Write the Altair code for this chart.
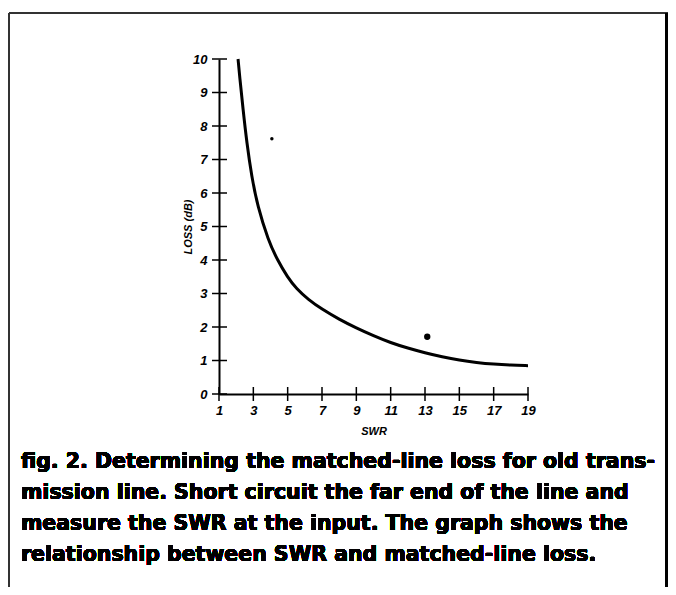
import altair as alt
import pandas as pd

# curve
swr = [2.11, 2.2, 2.4, 2.62, 2.9, 3.25, 3.86, 4.4, 5.0, 5.5, 6.2, 7.0, 8.0, 9.0, 10.0,
       11.0, 12.0, 13.0, 14.0, 15.0, 16.0, 17.0, 18.0, 19.0]
loss = [10.0, 9.5, 8.5, 7.5, 6.5, 5.6, 4.6, 4.0, 3.48, 3.15, 2.82, 2.53, 2.23, 1.97, 1.74,
        1.53, 1.37, 1.23, 1.11, 1.01, 0.94, 0.89, 0.86, 0.845]

# the two isolated dots
dot_swr = [4.08, 13.13]
dot_loss = [7.62, 1.71]

x_ticks = [1, 3, 5, 7, 9, 11, 13, 15, 17, 19]
y_ticks = [0, 1, 2, 3, 4, 5, 6, 7, 8, 9, 10]

caption = [
    "fig. 2. Determining the matched-line loss for old trans-",
    "mission line. Short circuit the far end of the line and",
    "measure the SWR at the input. The graph shows the",
    "relationship between SWR and matched-line loss.",
]

curve_df = pd.DataFrame({"SWR": swr, "LOSS": loss})
dot_df = pd.DataFrame({"SWR": dot_swr, "LOSS": dot_loss, "big": [False, True]})
xt_df = pd.DataFrame({"SWR": x_ticks})
yt_df = pd.DataFrame({"LOSS": y_ticks})

W, H = 309, 335
xscale = alt.Scale(domain=[1, 19], nice=False, zero=False)
yscale = alt.Scale(domain=[0, 10], nice=False)

lab = dict(labelFont="Liberation Sans", labelFontStyle="italic", labelFontWeight="bold",
           labelFontSize=13, labelColor="black", domainColor="black", domainWidth=2,
           labelOverlap=False, labelBound=False, labelFlush=False,
           ticks=False, grid=False, titleFont="Liberation Sans", titleFontStyle="italic",
           titleFontWeight="bold", titleFontSize=11, titleColor="black")

xaxis = alt.Axis(values=x_ticks, labelPadding=10, title="SWR",
                 titleX=W / 2, titleY=37, titleBaseline="middle", **lab)
yaxis = alt.Axis(values=y_ticks, labelPadding=12, title="LOSS (dB)",
                 titleX=-31, titleY=H / 2, titleAngle=-90, titleAlign="center",
                 titleBaseline="middle", **lab)

X = alt.X("SWR:Q", scale=xscale, axis=xaxis)
Y = alt.Y("LOSS:Q", scale=yscale, axis=yaxis)

line = alt.Chart(curve_df).mark_line(color="black", strokeWidth=3, interpolate="basis").encode(
    x=X, y=Y)

dots = alt.Chart(dot_df).mark_circle(color="black", opacity=1).encode(
    x=X, y=Y,
    size=alt.Size("big:N", scale=alt.Scale(domain=[False, True], range=[12, 40]), legend=None),
)

xcross = alt.Chart(xt_df).mark_rule(color="black", strokeWidth=1.5).encode(
    x=X, y=alt.value(H - 7), y2=alt.value(H + 7))
ycross = alt.Chart(yt_df).mark_rule(color="black", strokeWidth=1.5).encode(
    y=Y, x=alt.value(-7), x2=alt.value(8))

frame_top = alt.Chart(curve_df).mark_rule(color="#333", strokeWidth=1.5).encode(
    x=alt.value(-210), x2=alt.value(449), y=alt.value(-46))
frame_left = alt.Chart(curve_df).mark_rule(color="#333", strokeWidth=1.5).encode(
    x=alt.value(-210), y=alt.value(-46), y2=alt.value(560))
frame_right = alt.Chart(curve_df).mark_rule(color="black", strokeWidth=3).encode(
    x=alt.value(448), y=alt.value(-46), y2=alt.value(560))

cap = alt.Chart(curve_df).mark_text(
    text=caption, align="left", baseline="top", font="DejaVu Sans", fontWeight="bold",
    fontSize=20.5, lineHeight=31, color="black",
).encode(x=alt.value(-198), y=alt.value(393))

chart = alt.layer(line, dots, xcross, ycross, frame_top, frame_left, frame_right, cap).properties(
    width=W, height=H,
    autosize=alt.AutoSizeParams(type="none"),
    padding={"left": 211, "top": 51, "right": 140, "bottom": 193},
).configure_view(stroke=None)

chart.save("out.html", embed_options={"renderer": "svg", "actions": False})
